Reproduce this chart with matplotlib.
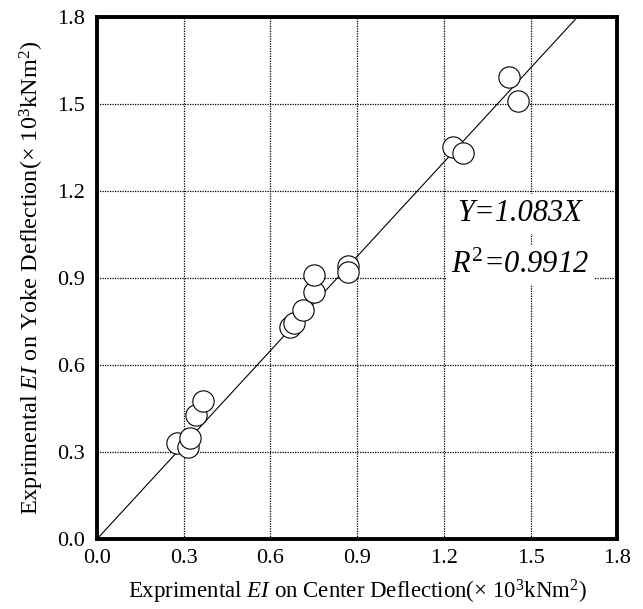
import matplotlib
matplotlib.use('Agg')
import numpy as np
import matplotlib.pyplot as plt

# measured EI values (x 10^3 kNm^2)
center_ei = [0.276, 0.316, 0.322, 0.342, 0.365,
             0.668, 0.680, 0.714, 0.752, 0.749, 0.867, 0.867,
             1.230, 1.266, 1.426, 1.455]
yoke_ei = [0.330, 0.318, 0.347, 0.428, 0.477,
           0.732, 0.744, 0.790, 0.853, 0.910, 0.940, 0.922,
           1.353, 1.332, 1.592, 1.511]

slope = 1.083
r2 = 0.9912
ticks = [0.0, 0.3, 0.6, 0.9, 1.2, 1.5, 1.8]
tick_labels = ['0.0', '0.3', '0.6', '0.9', '1.2', '1.5', '1.8']

plt.rcParams['font.family'] = ['Liberation Serif', 'DejaVu Serif']
plt.rcParams['mathtext.fontset'] = 'custom'
plt.rcParams['mathtext.rm'] = 'Liberation Serif'
plt.rcParams['mathtext.it'] = 'Liberation Serif:italic'


def main():
    fig = plt.figure(figsize=(6.43, 6.09), dpi=100)
    ax = fig.add_axes([0.151, 0.115, 0.809, 0.857])

    # fitted line through origin
    xl = np.array([0.0, 1.8 / slope])
    ax.plot(xl, slope * xl, color='black', lw=0.8, zorder=3)

    ax.scatter(center_ei, yoke_ei, s=235, facecolor='white',
               edgecolor='black', linewidths=0.8, zorder=4)

    ax.set_xlim(0, 1.8)
    ax.set_ylim(0, 1.8)
    ax.set_xticks(ticks)
    ax.set_yticks(ticks)
    ax.set_xticklabels(tick_labels)
    ax.set_yticklabels(tick_labels)
    ax.tick_params(length=0, labelsize=16)
    ax.tick_params(axis='x', pad=7)
    ax.tick_params(axis='y', pad=9)

    ax.grid(True, color='black', linestyle=(0, (1, 1)), lw=0.9, zorder=1)
    ax.set_axisbelow(True)
    for sp in ax.spines.values():
        sp.set_linewidth(2.8)

    box = dict(facecolor='white', edgecolor='none', pad=4)
    ax.text(1.464, 1.122, 'Y=1.083X', fontsize=22, style='italic',
            ha='center', va='center', bbox=box, zorder=2)
    ax.text(1.464, 0.945, r'$R^2$=0.9912', fontsize=22, style='italic',
            ha='center', va='center', bbox=box, zorder=2)

    ax.set_xlabel(r'Exprimental $\mathit{EI}$ on Center Deflection(× 10$^3$kNm$^2$)',
                  fontsize=16.5, labelpad=7)
    ax.set_ylabel(r'Exprimental $\mathit{EI}$ on Yoke Deflection(× 10$^3$kNm$^2$)',
                  fontsize=17.5, labelpad=8)

    fig.savefig('out.png', dpi=100)


if __name__ == "__main__":
    main()
